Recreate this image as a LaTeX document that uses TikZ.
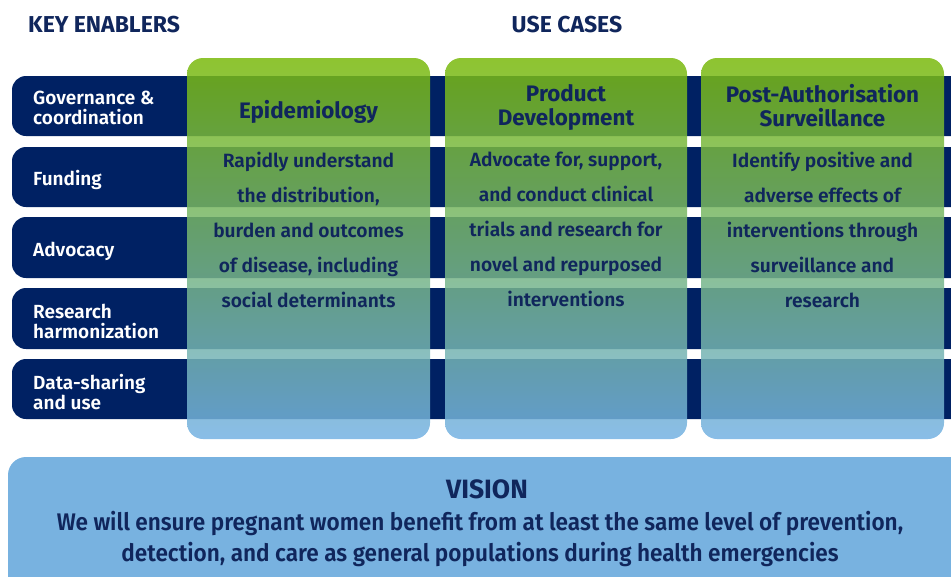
\documentclass[tikz,border=0pt]{standalone}
\usepackage{fontspec}
\setmainfont{Fira Sans}
\newfontfamily\semi{Fira Sans SemiBold}
\usepackage{graphicx}
\definecolor{navy}{RGB}{0,33,99}
\definecolor{txtnavy}{RGB}{16,38,92}
\definecolor{coltop}{RGB}{122,186,12}
\definecolor{colbot}{RGB}{116,178,228}
\definecolor{vision}{RGB}{120,178,224}
\tikzset{
  bar/.style={fill=navy, rounded corners=14pt},
  usecol/.style={top color=coltop, bottom color=colbot, fill opacity=0.85, rounded corners=16pt},
  rowlabel/.style={anchor=west, text=white, font=\semi\fontsize{19}{20}\selectfont, align=left, inner sep=0pt},
  colhead/.style={text=txtnavy, font=\bfseries\fontsize{22.4}{24}\selectfont, align=center, inner sep=0pt},
  colbody/.style={text=txtnavy, font=\semi\fontsize{19.2}{35}\selectfont, align=center, inner sep=0pt, anchor=north},
  toptitle/.style={text=txtnavy, font=\bfseries\fontsize{23}{24}\selectfont, inner sep=0pt},
}
\begin{document}
\begin{tikzpicture}[x=1pt,y=-1pt]
\useasboundingbox (0,0) rectangle (951,576);
% enabler bars
\foreach \t/\b in {76/136,147/207,217/278,288/349,359/419}{
  \fill[bar] (12,\t) rectangle (980,\b);
}
% use case columns
\shade[usecol] (187,58) rectangle (430,439);
\shade[usecol] (445,58) rectangle (687,439);
\shade[usecol] (701,58) rectangle (944,439);
% vision box
\fill[vision, rounded corners=18pt] (8,457) rectangle (990,620);

% titles
\node[toptitle, anchor=west] (ke) at (28,25) {KEY ENABLERS};
\node[toptitle] (uc) at (567,25) {USE CASES};

% row labels
\node[rowlabel] (r1) at (33,108) {Governance \&\\coordination};
\node[rowlabel] (r2) at (33,180) {Funding};
\node[rowlabel] (r3) at (33,251) {Advocacy};
\node[rowlabel] (r4) at (33,321) {Research\\harmonization};
\node[rowlabel] (r5) at (33,392) {Data-sharing\\and use};

% column headers
\node[colhead] (h1) at (308.5,112) {Epidemiology};
\node[colhead] (h2) at (566,107.5) {Product\\Development};
\node[colhead] (h3) at (822.5,106) {Post-Authorisation\\Surveillance};

% column bodies
\node[colbody] (b1) at (308.5,152) {Rapidly understand\\the distribution,\\burden and outcomes\\of disease, including\\social determinants};
\node[colbody] (b2) at (566,152) {Advocate for, support,\\and conduct clinical\\trials and research for\\novel and repurposed\\interventions};
\node[colbody] (b3) at (822.5,152) {Identify positive and\\adverse effects of\\interventions through\\surveillance and\\research};

% vision
\node[text=txtnavy, font=\bfseries\fontsize{26.5}{28}\selectfont, inner sep=0pt] (vt) at (487,489) {VISION};
\node[text=txtnavy, font=\semi\fontsize{24}{31}\selectfont, align=center, inner sep=0pt] (vb) at (480,539)
  {\scalebox{0.94}[1]{We will ensure pregnant women benefit from at least the same level of prevention,}\\
   \scalebox{0.94}[1]{detection, and care as general populations during health emergencies}};
\end{tikzpicture}
\end{document}
